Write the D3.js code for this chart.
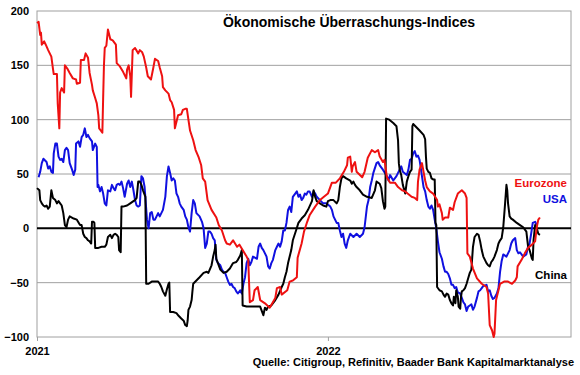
<!DOCTYPE html>
<html><head><meta charset="utf-8">
<script src="https://cdn.jsdelivr.net/npm/d3@7/dist/d3.min.js"></script>
<style>
html,body{margin:0;padding:0;background:#fff;}
svg text{font-family:"Liberation Sans",Arial,sans-serif;font-weight:bold;}
</style></head>
<body><svg id="c" width="580" height="375"></svg>
<script>
// Data: [days since 2021-01-01, index value]
const eurozone = [[0,189],[2,190],[4,178],[5,180],[6,169],[9,172],[11,169],[14,164],[16,161],[18,158],[20,147],[21,142],[25,142],[26,115],[28,92],[29,125],[31,129],[34,125],[35,150],[38,147],[41,143],[45,138],[49,137],[50,133],[54,134],[55,155],[59,155],[61,161],[64,157],[66,143],[69,132],[70,127],[73,120],[75,115],[77,104],[78,92],[80,90],[82,88],[83,120],[84,150],[85,166],[87,168],[89,183],[92,174],[95,173],[99,169],[100,152],[104,149],[108,144],[112,138],[113,146],[115,150],[117,140],[118,121],[120,164],[123,166],[127,161],[129,164],[132,162],[134,158],[137,148],[139,140],[143,137],[146,148],[148,156],[152,154],[154,148],[157,140],[158,130],[161,127],[165,124],[167,118],[169,116],[172,109],[173,92],[177,104],[181,105],[183,109],[186,110],[188,110],[192,90],[196,81],[199,72],[203,65],[206,58],[208,46],[211,43],[214,26],[219,17],[225,10],[228,3],[232,-2],[236,-11],[238,-14],[242,-15],[246,-11],[251,-17],[254,-15],[258,-20],[263,-26],[265,-29],[267,-68],[271,-66],[273,-57],[277,-54],[280,-66],[286,-69],[292,-73],[299,-64],[301,-55],[305,-54],[307,-61],[314,-57],[317,-49],[321,-48],[326,-45],[327,-27],[332,-14],[335,-3],[339,6],[342,12],[349,20],[355,26],[360,29],[365,32],[370,42],[375,42],[380,46],[385,52],[389,58],[390,65],[393,66],[395,52],[396,57],[399,61],[401,52],[408,47],[411,52],[415,65],[420,72],[424,70],[428,72],[430,66],[434,61],[436,63],[439,47],[443,42],[449,42],[453,38],[458,35],[462,34],[465,32],[470,29],[474,28],[477,26],[478,43],[480,54],[483,60],[484,56],[487,44],[489,38],[493,34],[497,32],[502,26],[503,20],[505,22],[508,14],[509,8],[512,10],[516,10],[518,19],[522,17],[524,24],[528,32],[533,35],[537,32],[539,28],[540,-23],[543,-26],[547,-37],[552,-46],[558,-51],[564,-54],[566,-60],[568,-89],[571,-94],[573,-100],[574,-97],[576,-66],[577,-63],[581,-51],[586,-49],[591,-49],[596,-51],[600,-48],[602,-45],[603,-35],[608,-29],[612,-23],[616,-18],[621,-15],[625,-12],[627,1],[629,8],[631,10]];

const usa = [[2,47],[4,52],[6,60],[8,64],[12,61],[14,55],[16,57],[18,52],[20,51],[21,69],[23,78],[25,78],[27,66],[29,63],[31,64],[33,61],[35,72],[37,74],[39,72],[41,60],[44,54],[46,49],[48,54],[49,78],[52,80],[54,75],[56,84],[58,86],[60,92],[62,84],[64,86],[66,83],[69,80],[70,72],[73,78],[75,75],[76,38],[77,40],[79,34],[81,38],[83,32],[85,23],[87,21],[89,35],[92,34],[94,40],[96,37],[98,35],[100,40],[102,41],[104,40],[106,43],[108,37],[110,29],[113,41],[115,44],[117,38],[119,43],[121,35],[123,26],[125,21],[127,20],[129,21],[131,48],[133,46],[135,38],[138,8],[140,0],[142,14],[144,15],[146,8],[148,8],[150,11],[152,14],[154,11],[156,14],[158,17],[161,29],[163,48],[165,57],[167,51],[169,44],[171,46],[173,44],[175,32],[177,29],[179,23],[181,20],[184,17],[186,11],[188,8],[190,1],[192,-3],[194,14],[196,26],[198,23],[200,14],[204,11],[207,6],[209,0],[211,-18],[213,-14],[215,-3],[217,-3],[219,-5],[221,-9],[223,-11],[225,-29],[227,-32],[230,-34],[232,-38],[234,-40],[236,-41],[238,-45],[240,-49],[242,-52],[244,-51],[246,-54],[248,-55],[250,-58],[252,-60],[255,-57],[257,-60],[259,-51],[261,-45],[263,-32],[265,-28],[267,-34],[269,-31],[271,-26],[276,-28],[278,-17],[280,-14],[282,-18],[284,-20],[286,-23],[288,-26],[290,-35],[292,-37],[294,-32],[296,-29],[299,-20],[301,-17],[303,-14],[305,-17],[307,-12],[309,-2],[311,-2],[313,5],[315,17],[317,20],[319,15],[321,29],[324,32],[326,34],[328,29],[330,31],[332,26],[334,28],[336,32],[338,31],[340,34],[342,34],[345,29],[347,34],[349,32],[351,29],[355,26],[359,23],[363,23],[368,20],[370,17],[372,11],[374,8],[376,5],[378,5],[380,-2],[382,-8],[384,-5],[386,-14],[388,-18],[390,-11],[393,-5],[397,-8],[401,-5],[405,-8],[409,-5],[411,1],[414,20],[416,26],[418,38],[420,44],[422,51],[426,60],[428,61],[430,58],[434,54],[439,48],[441,44],[443,49],[447,44],[451,48],[455,54],[457,57],[459,52],[464,49],[466,54],[468,63],[470,64],[472,69],[474,71],[476,66],[478,67],[480,63],[483,48],[485,38],[487,34],[489,26],[491,20],[493,18],[495,21],[497,17],[499,8],[501,0],[503,-12],[505,-22],[508,-28],[510,-35],[512,-40],[514,-40],[516,-42],[518,-46],[520,-52],[522,-52],[524,-55],[526,-54],[528,-59],[531,-60],[533,-64],[535,-68],[537,-70],[539,-76],[541,-72],[543,-71],[545,-70],[547,-75],[549,-72],[552,-64],[554,-58],[556,-57],[558,-55],[560,-53],[564,-52],[566,-58],[568,-57],[570,-62],[572,-65],[574,-64],[577,-60],[579,-55],[581,-40],[583,-30],[585,-24],[589,-26],[591,-23],[593,-20],[595,-14],[597,-11],[600,-9],[602,-20],[604,-23],[606,-22],[610,-26],[614,-24],[616,-17],[618,-14],[620,-5],[622,5],[625,6],[627,3]];

const china = [[0,37],[3,35],[4,26],[6,23],[8,21],[10,20],[12,21],[14,18],[16,20],[18,35],[20,28],[23,26],[25,23],[27,25],[29,23],[31,21],[33,14],[35,3],[37,1],[39,8],[41,11],[46,9],[50,8],[54,3],[56,3],[58,-5],[60,-8],[62,-9],[64,-11],[66,-12],[68,-14],[69,6],[71,6],[72,5],[73,-18],[77,-18],[81,-17],[85,-17],[87,-15],[89,-8],[92,-6],[94,-9],[96,-6],[98,-5],[100,-6],[102,-8],[103,-20],[105,-22],[106,20],[108,20],[113,21],[117,23],[121,25],[123,26],[125,28],[127,43],[129,43],[131,40],[133,35],[135,31],[136,29],[137,-51],[140,-51],[144,-49],[152,-49],[154,-51],[156,-54],[158,-58],[161,-62],[163,-56],[165,-51],[166,-50],[167,-77],[171,-77],[175,-78],[177,-80],[181,-83],[184,-85],[186,-89],[188,-90],[189,-85],[190,-75],[192,-72],[194,-66],[195,-58],[196,-51],[200,-48],[204,-45],[209,-41],[213,-40],[215,-41],[219,-34],[221,-26],[223,-20],[224,-15],[225,-28],[227,-32],[230,-38],[234,-41],[238,-40],[242,-37],[246,-32],[250,-31],[252,-29],[255,-25],[257,-20],[258,-71],[263,-72],[271,-72],[280,-72],[282,-76],[284,-80],[286,-73],[288,-75],[290,-72],[294,-71],[299,-66],[303,-61],[307,-54],[309,-51],[311,-45],[313,-40],[315,-32],[317,-26],[319,-20],[321,-11],[325,-2],[328,5],[332,9],[336,12],[340,17],[345,25],[347,35],[349,29],[351,25],[355,23],[359,21],[363,20],[365,25],[368,26],[372,26],[376,23],[378,26],[380,38],[382,46],[384,48],[388,46],[393,44],[395,41],[397,43],[399,40],[401,38],[405,35],[409,31],[414,29],[420,28],[424,35],[426,43],[430,41],[432,37],[434,25],[436,18],[437,20],[438,101],[442,100],[447,97],[451,94],[453,81],[454,60],[455,54],[457,49],[459,40],[462,32],[464,43],[466,48],[468,52],[470,54],[471,94],[472,96],[476,93],[480,90],[485,86],[487,82],[488,66],[489,55],[491,52],[493,51],[495,46],[497,45],[499,45],[500,5],[501,3],[502,-54],[505,-57],[508,-58],[510,-61],[512,-63],[514,-60],[516,-61],[518,-66],[520,-69],[522,-71],[523,-63],[524,-66],[525,-69],[526,-57],[528,-63],[529,-72],[531,-74],[532,-63],[533,-58],[535,-57],[537,-55],[539,-51],[541,-46],[543,-41],[545,-38],[547,-17],[549,-8],[552,-5],[554,-6],[556,-12],[558,-20],[560,-26],[562,-29],[564,-32],[566,-34],[568,-35],[570,-31],[572,-29],[574,-26],[577,-20],[579,-14],[581,-11],[583,-9],[585,1],[587,20],[589,40],[590,35],[591,23],[593,11],[595,9],[597,8],[602,5],[606,3],[610,1],[614,-3],[616,-16],[618,-20],[621,-28],[622,-29],[623,-11],[625,3],[627,0],[629,-5],[631,-6]];

const yTicks = [-100, -50, 0, 50, 100, 150, 200];
const xTickYears = ["2021", "2022"];
const seriesNames = ["Eurozone", "USA", "China"];
const title = "Ökonomische Überraschungs-Indices";
const source = "Quelle: Citigroup, Refinitiv, Baader Bank Kapitalmarktanalyse";

const svg = d3.select("#c");
const L = 37, R = 571, T = 11, B = 337;
const base = new Date(Date.UTC(2021, 0, 1));
const toDate = d => d3.utcDay.offset(base, d);
const x = d3.scaleUtc().domain([base, d3.utcDay.offset(base, 670)]).range([L, R]);
const y = d3.scaleLinear().domain([-100, 200]).range([B, T]);
const grid = "#a0a0a0";

// gridlines
svg.append("g").selectAll("line").data(yTicks.filter(v => v !== 0 && v !== -100 && v !== 200))
  .join("line").attr("x1", L).attr("x2", R).attr("y1", d => y(d)).attr("y2", d => y(d))
  .attr("stroke", grid).attr("stroke-width", 1);
// frame
svg.append("rect").attr("x", L).attr("y", y(200)).attr("width", R - L).attr("height", y(-100) - y(200))
  .attr("fill", "none").attr("stroke", grid).attr("stroke-width", 1);

// y axis labels
const yAxis = d3.axisLeft(y).tickValues(yTicks).tickSize(0).tickPadding(8);
const ga = svg.append("g").attr("transform", `translate(${L},0)`).call(yAxis);
ga.select(".domain").remove();
ga.selectAll("text").attr("font-size", 11).attr("fill", "#000")
  .style("font-family", '"Liberation Sans",Arial,sans-serif').style("font-weight", "bold");

// x axis
const xTicks = xTickYears.map(s => new Date(Date.UTC(+s, 0, 1)));
const xAxis = d3.axisBottom(x).tickValues(xTicks).tickSize(4).tickPadding(6).tickFormat(d3.utcFormat("%Y"));
const gx = svg.append("g").attr("transform", `translate(0,${B})`).call(xAxis);
gx.select(".domain").remove();
gx.selectAll("line").attr("stroke", grid);
gx.selectAll("text").attr("font-size", 11).attr("fill", "#000")
  .style("font-family", '"Liberation Sans",Arial,sans-serif').style("font-weight", "bold");

// zero line
svg.append("line").attr("x1", L).attr("x2", R).attr("y1", y(0)).attr("y2", y(0))
  .attr("stroke", "#000").attr("stroke-width", 2);

const line = d3.line().x(d => x(toDate(d[0]))).y(d => y(d[1]));
const colors = {Eurozone: "#ee1111", USA: "#1010e0", China: "#000000"};
const drawOrder = [["USA", usa], ["China", china], ["Eurozone", eurozone]];
drawOrder.forEach(([name, data]) => {
  svg.append("path").datum(data).attr("d", line).attr("fill", "none")
    .attr("stroke", colors[name]).attr("stroke-width", 2).attr("stroke-linejoin", "round");
});

// series labels
const labelPos = {Eurozone: 187, USA: 203, China: 279};
seriesNames.forEach(n => {
  svg.append("text").attr("x", 567).attr("y", labelPos[n]).attr("text-anchor", "end")
    .attr("font-size", 11.5).attr("fill", colors[n]).text(n);
});

// title and source
svg.append("text").attr("x", 349).attr("y", 27).attr("text-anchor", "middle")
  .attr("font-size", 14).attr("fill", "#000").text(title);
svg.append("text").attr("x", 574).attr("y", 366).attr("text-anchor", "end")
  .attr("font-size", 11).attr("fill", "#000").text(source);
</script></body></html>
